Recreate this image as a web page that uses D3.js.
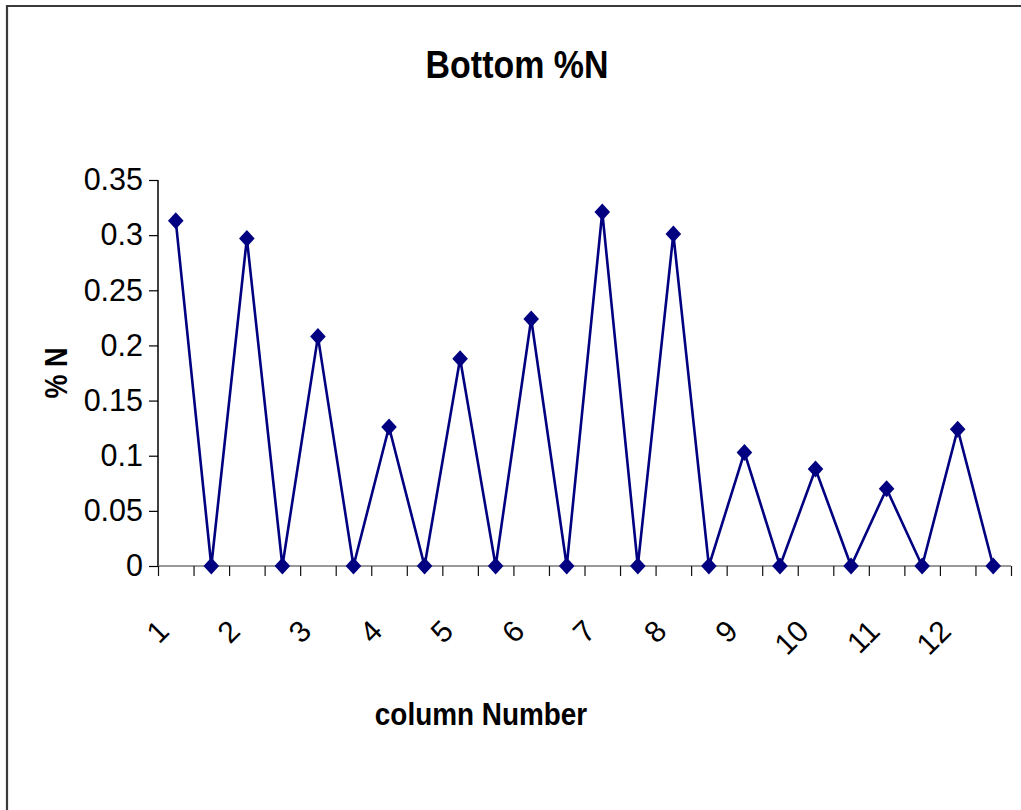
<!DOCTYPE html>
<html>
<head>
<meta charset="utf-8">
<script src="https://cdn.jsdelivr.net/npm/d3@7/dist/d3.min.js"></script>
<style>
  html, body { margin: 0; padding: 0; background: #fff; }
  svg { display: block; }
  text { font-family: Arial, "Liberation Sans", sans-serif; fill: #000; }
</style>
</head>
<body>
<script>
// Sampling positions: a labelled column followed by the gap after it
const categories = ["1", "", "2", "", "3", "", "4", "", "5", "", "6", "",
                    "7", "", "8", "", "9", "", "10", "", "11", "", "12", ""];
// Bottom %N at each position
const percentN = [0.313, 0, 0.297, 0, 0.208, 0, 0.126, 0, 0.188, 0, 0.224, 0,
                  0.321, 0, 0.301, 0, 0.103, 0, 0.088, 0, 0.070, 0, 0.124, 0];
const yTicks = [0, 0.05, 0.1, 0.15, 0.2, 0.25, 0.3, 0.35];
const yTickLabels = ["0", "0.05", "0.1", "0.15", "0.2", "0.25", "0.3", "0.35"];
const chartTitle = "Bottom %N";
const xTitle = "column Number";
const yTitle = "% N";

const W = 1021, H = 810;
const plot = { left: 158, right: 1011, top: 180, bottom: 566 };

const svg = d3.select("body").append("svg").attr("width", W).attr("height", H);

// outer chart frame
svg.append("path")
  .attr("d", `M7,${H + 10} V6 H${W + 10}`)
  .attr("fill", "none").attr("stroke", "#3a3a3a").attr("stroke-width", 2.2);

const x = d3.scaleBand().domain(d3.range(categories.length))
  .range([plot.left, plot.right]).paddingInner(0).paddingOuter(0);
const xEdge = d3.scaleLinear().domain([0, categories.length])
  .range([plot.left, plot.right]);
const y = d3.scaleLinear().domain([0, 0.35]).range([plot.bottom, plot.top]);

// y axis
const yAxis = svg.append("g").attr("transform", `translate(${plot.left},0)`)
  .call(d3.axisLeft(y).tickValues(yTicks)
    .tickFormat((d, i) => yTickLabels[i]).tickSize(9).tickPadding(6));
yAxis.select(".domain").attr("stroke", "#000").attr("stroke-width", 1.5)
  .attr("d", `M0,${plot.top}V${plot.bottom}`);
yAxis.selectAll(".tick line").attr("stroke", "#000").attr("stroke-width", 1.2);
yAxis.selectAll(".tick text")
  .style("font-size", "30.5px").style("font-family", "Arial, 'Liberation Sans', sans-serif");

// x axis: category boundary ticks
const xAxis = svg.append("g").attr("transform", `translate(0,${plot.bottom})`)
  .call(d3.axisBottom(xEdge).tickValues(d3.range(categories.length + 1))
    .tickFormat("").tickSize(10));
xAxis.select(".domain").attr("stroke", "#777").attr("stroke-width", 1.5)
  .attr("d", `M${plot.left},0H${plot.right}`);
xAxis.selectAll(".tick line").attr("stroke", "#111").attr("stroke-width", 1.2);

// rotated category labels
svg.append("g").selectAll("text")
  .data(categories.map((c, i) => ({ c, i })).filter(d => d.c !== ""))
  .join("text")
  .attr("transform", d => `translate(${x(d.i) + x.bandwidth() / 2 - 5},633) rotate(-45)`)
  .attr("text-anchor", "end")
  .style("font-size", "30px")
  .text(d => d.c);

// series line
const cx = i => x(i) + x.bandwidth() / 2;
svg.append("path")
  .datum(percentN)
  .attr("fill", "none")
  .attr("stroke", "#000080")
  .attr("stroke-width", 2.6)
  .attr("stroke-linejoin", "miter")
  .attr("d", d3.line().x((d, i) => cx(i)).y(d => y(d)));

// diamond markers
svg.append("g").selectAll("path")
  .data(percentN)
  .join("path")
  .attr("transform", (d, i) => `translate(${cx(i)},${y(d)})`)
  .attr("d", "M0,-8.5L7.8,0L0,8.5L-7.8,0Z")
  .attr("fill", "#000080");

// titles (condensed bold lettering)
svg.append("text")
  .attr("transform", "translate(517,78) scale(0.87,1)")
  .attr("text-anchor", "middle")
  .style("font-size", "39px").style("font-weight", "bold")
  .text(chartTitle);

svg.append("text")
  .attr("transform", "translate(481,725) scale(0.9,1)")
  .attr("text-anchor", "middle")
  .style("font-size", "31px").style("font-weight", "bold")
  .text(xTitle);

svg.append("text")
  .attr("transform", "translate(67,373) rotate(-90) scale(0.87,1)")
  .attr("text-anchor", "middle")
  .style("font-size", "31px").style("font-weight", "bold")
  .text(yTitle);
</script>
</body>
</html>
